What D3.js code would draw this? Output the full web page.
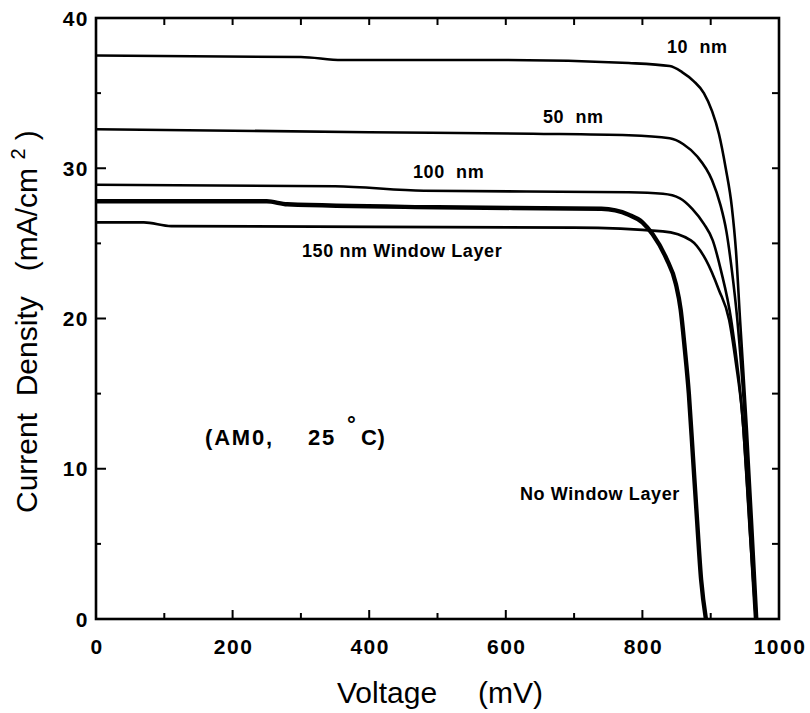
<!DOCTYPE html>
<html>
<head>
<meta charset="utf-8">
<script src="https://cdn.jsdelivr.net/npm/d3@7"></script>
<style>
  body { margin:0; background:#fff; }
  svg { display:block; font-family: Arial, "Liberation Sans", Helvetica, sans-serif; }
  .lbl { font-size:18px; font-weight:bold; letter-spacing:0.6px; white-space:pre; }
  .tick { font-size:21px; font-weight:bold; letter-spacing:1.5px; }
  .title { font-size:30px; white-space:pre; }
</style>
</head>
<body>
<svg id="chart" width="810" height="713"></svg>
<script>
// J-V curves, voltage (mV) vs current density (mA/cm2)
const curve10nm = [[0,37.5],[300,37.4],[360,37.2],[600,37.2],[780,37.0],[840,36.8],[858,36.4],[875,35.8],[890,35.0],[902,33.8],[912,32.3],[922,30.0],[931,27.4],[937,24.5],[943,19.9],[953,12.6],[961,6],[968,0]];
const curve50nm = [[0,32.6],[400,32.4],[640,32.3],[780,32.2],[840,32.0],[860,31.6],[880,30.8],[902,29.2],[914,27.6],[923,25.8],[931,23.2],[939,19.9],[951,12.6],[959,6],[967,0]];
const curve100nm = [[0,28.9],[350,28.8],[480,28.5],[780,28.4],[830,28.3],[855,28.0],[873,27.3],[890,26.3],[903,25.2],[915,23.2],[930,19.9],[948,12.6],[957,6],[966,0]];
const curve150nm = [[0,26.4],[70,26.4],[110,26.15],[700,26.05],[830,25.8],[871,25.2],[893,23.9],[912,21.9],[927,19.9],[937,17.0],[946,13.7],[956,7.0],[965,0]];
const curveNoWindow = [[0,27.8],[250,27.8],[280,27.6],[500,27.4],[740,27.3],[780,26.9],[800,26.4],[815,25.6],[835,24.0],[849,22.3],[856,20.6],[862,18.0],[868,15.0],[874,10.8],[880,6.6],[886,2.6],[893,0]];

const xTicks = [0,200,400,600,800,1000];
const yTicks = [0,10,20,30,40];

const svg = d3.select('#chart');
const x = d3.scaleLinear().domain([0,1000]).range([96,779]);
const y = d3.scaleLinear().domain([0,40]).range([619,18]);

// frame
svg.append('rect')
  .attr('x', x(0)).attr('y', y(40))
  .attr('width', x(1000)-x(0)).attr('height', y(0)-y(40))
  .attr('fill','none').attr('stroke','#000').attr('stroke-width',2.6);

// inward ticks
const tk = svg.append('g').attr('stroke','#000').attr('stroke-width',2);
d3.range(100,1000,100).forEach(v=>{
  const len = v%200===0 ? 9 : 6;
  tk.append('line').attr('x1',x(v)).attr('x2',x(v)).attr('y1',y(0)).attr('y2',y(0)-len);
  tk.append('line').attr('x1',x(v)).attr('x2',x(v)).attr('y1',y(40)).attr('y2',y(40)+7);
});
d3.range(5,40,5).forEach(v=>{
  const len = v%10===0 ? 10 : 5;
  tk.append('line').attr('x1',x(0)).attr('x2',x(0)+len).attr('y1',y(v)).attr('y2',y(v));
  tk.append('line').attr('x1',x(1000)).attr('x2',x(1000)-7).attr('y1',y(v)).attr('y2',y(v));
});

// tick labels
svg.append('g').selectAll('text').data(yTicks).join('text')
  .attr('class','tick').attr('x',89).attr('y',d=>y(d)).attr('dy','0.36em')
  .attr('text-anchor','end').text(d=>d);
svg.append('g').selectAll('text').data(xTicks).join('text')
  .attr('class','tick').attr('x',d=>x(d)+1).attr('y',654)
  .attr('text-anchor','middle').text(d=>d);

// curves
const line = d3.line().x(d=>x(d[0])).y(d=>y(d[1])).curve(d3.curveMonotoneX);
const series = [
  {data:curve10nm, w:2.6},
  {data:curve50nm, w:2.6},
  {data:curve100nm, w:2.6},
  {data:curve150nm, w:2.6},
  {data:curveNoWindow, w:4.4}
];
svg.append('g').selectAll('path').data(series).join('path')
  .attr('d',d=>line(d.data)).attr('fill','none').attr('stroke','#000')
  .attr('stroke-width',d=>d.w).attr('stroke-linejoin','round');

// curve labels
const labels = [
  {t:'10  nm', x:667, y:53, ls:0.8},
  {t:'50  nm', x:543, y:123, ls:0.8},
  {t:'100  nm', x:413, y:178, ls:1.2},
  {t:'150 nm Window Layer', x:302, y:257, ls:1.8},
  {t:'No Window Layer', x:520, y:500, ls:0.9}
];
svg.append('g').selectAll('text').data(labels).join('text')
  .attr('class','lbl').attr('x',d=>d.x).attr('y',d=>d.y)
  .attr('letter-spacing',d=>d.ls+'px').text(d=>d.t);

// (AM0, 25 °C)
const cond = svg.append('g').attr('font-size','22px').attr('font-weight','bold').attr('letter-spacing','1.8px');
cond.append('text').attr('x',205).attr('y',445).text('(AM0,');
cond.append('text').attr('x',308).attr('y',445).text('25');
cond.append('text').attr('x',347).attr('y',432).text('°');
cond.append('text').attr('x',361).attr('y',445).attr('letter-spacing','0.5px').text('C)');

// axis titles
svg.append('text').attr('class','title').attr('x',337).attr('y',703).text('Voltage');
svg.append('text').attr('class','title').attr('x',478).attr('y',703).text('(mV)');
const yt = svg.append('text').attr('class','title')
  .attr('transform','translate(37,513) rotate(-90)');
yt.append('tspan').text('Current  Density   (mA/cm ');
yt.append('tspan').attr('dy',-12).attr('font-size','20px').text('2');
yt.append('tspan').attr('dy',12).text(' )');
</script>
</body>
</html>
